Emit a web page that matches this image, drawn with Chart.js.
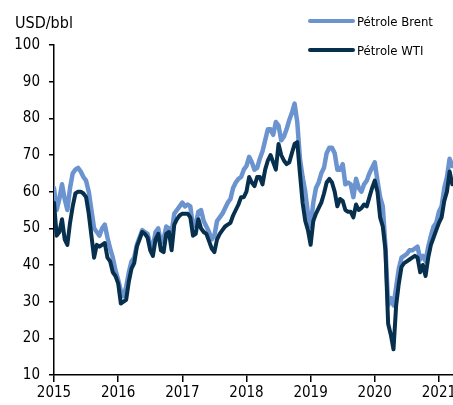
<!DOCTYPE html>
<html>
<head>
<meta charset="utf-8">
<script src="https://cdn.jsdelivr.net/npm/chart.js@4"></script>
<style>
html,body{margin:0;padding:0;background:#fff;overflow:hidden;}
#wrap{position:relative;width:471px;height:405px;}
</style>
</head>
<body>
<div id="wrap"><canvas id="c"></canvas></div>
<script>
// Half-monthly observations starting January 2015
const startYear = 2015;
const pointsPerYear = 24;
const yearTicks = [2015, 2016, 2017, 2018, 2019, 2020, 2021];
const unitLabel = 'USD/bbl';
const seriesNames = ['Pétrole Brent', 'Pétrole WTI'];

const brent = [
61,55,58,62,58,55,61,65,66,66.5,
65.5,64,63,60,55,50,49,48,50,51,
47.5,44.5,42,38.5,36,33,31.5,34,38,41,
42,45.5,47.5,49.5,49,48.5,45.5,45,49,50,
46,47,50.5,50,49,54,55,56,57,56,
56.5,56,50.5,51,54.5,55,52,50.5,49,47,
48,52,53,54,55.5,57,58,61,62.5,63.5,
64,66,67,69.5,68,66,66.5,69,71,74,
77,77,75.5,79,78,74,75,77,79.5,81.5,
84,79,69,64,60,54,50.5,57,61,62.5,
65,66.5,70.5,72,72,70.5,66,66,67.5,62,
62.5,62,58.5,63.5,61,60,62,63,65,66.5,
68,63,58.5,56,45,29,31,29,34,39,
42,42.5,43,44,44,44.5,45,41.5,42.5,41,
45,48,50.5,51.5,54.5,56,61,64,69,67
];
const wti = [
57,48,49,52.5,47,45.5,51.5,56,59.5,60,
60,59.5,58.5,54,48,42,45.5,45,45.5,46,
42,41,38,37,35,29.5,30,30.5,35.5,39,
40.5,45,47,49,48.5,47.5,44,42.5,47,48.5,
44,43.5,48.5,49,44,51,52.5,53.5,54,54,
54,53,48,48.5,52.5,50,49,48.5,46.5,44.5,
43.5,47,48.5,49.5,50.5,51,51.5,53.5,55,56.5,
58.5,58.5,60,64,62.5,61.5,64,64,62,66,
68.5,70,68,66,73,70,68.5,67.5,68,70.5,
73,73.5,65,57,52,49.5,45.5,52,54,55.5,
57,59.5,62.5,63.5,62.5,60,56,58,57.5,55,
54.5,54.5,53,56.5,55,55.5,56.5,56,58.5,61,
63,60,53,50.5,44,24,21,17,29,35,
39.5,40.5,41,41.5,42,42.5,42,38,40,37,
42,45.5,47.5,49.5,51.5,53,57.5,60,65.5,62
];

const toPoints = arr => arr.map((v, i) => ({x: startYear + i / pointsPerYear, y: v}));

const FONT = '"DejaVu Sans Condensed", "DejaVu Sans", sans-serif';
const colBrent = '#6b93cf';
const colWti = '#07304f';

const overlay = {
  id: 'overlay',
  afterDraw(chart) {
    const ctx = chart.ctx;
    ctx.save();
    ctx.fillStyle = '#000';
    ctx.textBaseline = 'alphabetic';
    ctx.textAlign = 'left';
    ctx.font = '16px ' + FONT;
    ctx.fillText(unitLabel, 15, 28);
    ctx.font = '13px ' + FONT;
    chart.data.datasets.forEach((ds, k) => {
      const y = 21 + k * 29;
      ctx.strokeStyle = ds.borderColor;
      ctx.lineWidth = 4;
      ctx.lineCap = 'round';
      ctx.beginPath();
      ctx.moveTo(310, y);
      ctx.lineTo(353, y);
      ctx.stroke();
      ctx.fillStyle = '#000';
      ctx.fillText(ds.label, 357, y + 5);
    });
    ctx.restore();
  }
};

new Chart(document.getElementById('c'), {
  type: 'line',
  data: {
    datasets: [
      {label: seriesNames[0], data: toPoints(brent), borderColor: colBrent, backgroundColor: colBrent, borderWidth: 4.5, pointRadius: 0, tension: 0, order: 2, borderJoinStyle: 'round', borderCapStyle: 'round'},
      {label: seriesNames[1], data: toPoints(wti), borderColor: colWti, backgroundColor: colWti, borderWidth: 4, pointRadius: 0, tension: 0, order: 1, borderJoinStyle: 'round', borderCapStyle: 'round'}
    ]
  },
  options: {
    responsive: true,
    maintainAspectRatio: false,
    animation: false,
    devicePixelRatio: 1,
    layout: {padding: {top: 45, left: 0, right: 0, bottom: 0}},
    plugins: {legend: {display: false}, tooltip: {enabled: false}, title: {display: false}},
    scales: {
      x: {
        type: 'linear',
        min: 2015,
        max: 2021.5,
        afterBuildTicks: s => { s.ticks = yearTicks.map(v => ({value: v})); },
        afterFit: s => { s.height = 30; },
        ticks: {autoSkip: false, maxRotation: 0, color: '#000', font: {family: FONT, size: 15}, padding: 2, callback: v => String(v)},
        grid: {drawOnChartArea: false, drawTicks: true, tickLength: 7, color: '#000', lineWidth: 1.5},
        border: {color: '#000', width: 1.5}
      },
      y: {
        min: 10,
        max: 100,
        afterFit: s => { s.width = 54; },
        ticks: {stepSize: 10, color: '#000', font: {family: FONT, size: 15}, padding: 9},
        grid: {drawOnChartArea: false, drawTicks: true, tickLength: 5, color: '#000', lineWidth: 1.5},
        border: {color: '#000', width: 1.5}
      }
    }
  },
  plugins: [overlay]
});
</script>
</body>
</html>
